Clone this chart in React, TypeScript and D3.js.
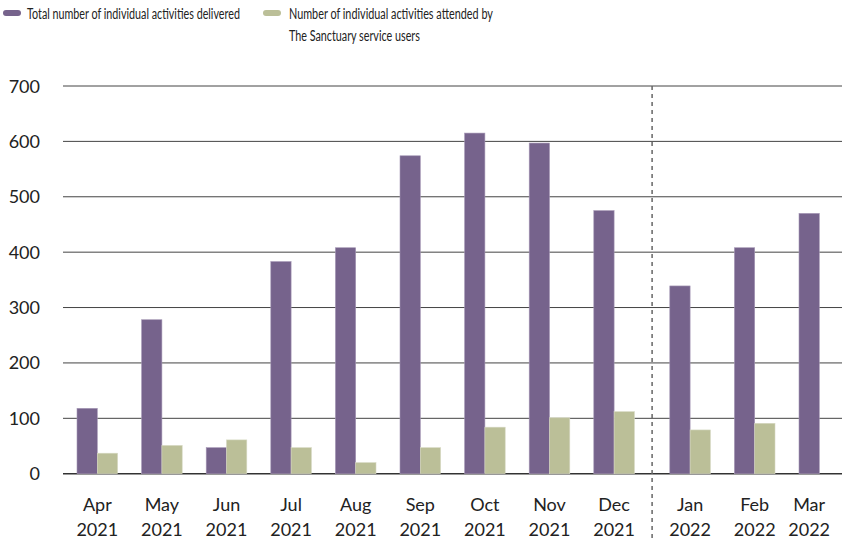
import * as d3 from "d3";
import { useLayoutEffect, useRef, useState } from "react";

const months = ["Apr", "May", "Jun", "Jul", "Aug", "Sep", "Oct", "Nov", "Dec", "Jan", "Feb", "Mar"];
const years = ["2021", "2021", "2021", "2021", "2021", "2021", "2021", "2021", "2021", "2022", "2022", "2022"];
const delivered = [118, 278, 47, 383, 408, 574, 615, 597, 475, 339, 408, 470];
const attended = [37, 51, 61, 47, 20, 47, 84, 101, 112, 79, 91, 0];
const yTicks = [0, 100, 200, 300, 400, 500, 600, 700];

const width = 844;
const height = 540;
const plotLeft = 63;
const plotRight = 842;
const yearGap = 11.4;
const barW = 20.3;
const purple = "#76638c";
const green = "#bbbf98";
const font = "Lato, 'Open Sans', sans-serif";
const textColor = "#222222";

// legend text in the reference is drawn narrow, so squeeze it to the measured width
function FitText({ x, y, w, children }: { x: number; y: number; w: number; children: string }) {
  const ref = useRef<SVGTextElement>(null);
  const [sx, setSx] = useState(1);
  useLayoutEffect(() => {
    if (!ref.current) return;
    const len = ref.current.getComputedTextLength();
    if (len > 0) setSx(w / len);
  }, [w, children]);
  return (
    <text
      ref={ref}
      transform={`translate(${x}, ${y}) scale(${sx}, 1)`}
      fontSize={16}
      fill={textColor}
    >
      {children}
    </text>
  );
}

export default function App() {
  const y = d3.scaleLinear().domain([0, 700]).range([473.7, 86]);
  const x = d3.scalePoint<string>().domain(months).range([77, 787.6]);
  const groupX = (m: string, i: number) => (x(m) as number) + (years[i] === "2022" ? yearGap : 0);
  const splitX = (groupX("Dec", 8) + 2 * barW + groupX("Jan", 9)) / 2;

  return (
    <svg
      width={width}
      height={height}
      style={{ position: "absolute", left: 0, top: 0, background: "#fff" }}
      fontFamily={font}
    >
      {/* legend */}
      <rect x={3} y={10} width={18} height={6} rx={3} fill={purple} />
      <FitText x={27} y={18.5} w={213}>Total number of individual activities delivered</FitText>
      <rect x={263} y={10} width={18} height={6} rx={3} fill={green} />
      <FitText x={289} y={18.5} w={204}>Number of individual activities attended by</FitText>
      <FitText x={289} y={41} w={131}>The Sanctuary service users</FitText>

      {/* grid */}
      {yTicks.map((t) => (
        <g key={t}>
          <line
            x1={plotLeft}
            x2={plotRight}
            y1={y(t)}
            y2={y(t)}
            stroke={t === 0 ? "#333" : "#444"}
            strokeWidth={t === 0 ? 1.6 : 1}
          />
          <text x={40} y={y(t) + 6.5} textAnchor="end" fontSize={18} fill={textColor}>
            {t}
          </text>
        </g>
      ))}

      {/* bars */}
      {months.map((m, i) => {
        const gx = groupX(m, i);
        return (
          <g key={m}>
            <rect
              x={gx}
              y={y(delivered[i])}
              width={barW}
              height={y(0) - y(delivered[i])}
              fill={purple}
              stroke="#a597b5"
              strokeWidth={0.6}
            />
            {attended[i] > 0 && (
              <rect
                x={gx + barW}
                y={y(attended[i])}
                width={barW}
                height={y(0) - y(attended[i])}
                fill={green}
                stroke="#d6d8c2"
                strokeWidth={0.6}
              />
            )}
          </g>
        );
      })}

      {/* x labels */}
      {months.map((m, i) => {
        const gx = groupX(m, i);
        const cx = attended[i] > 0 ? gx + barW : gx + barW / 2;
        return (
          <text key={m} x={cx} textAnchor="middle" fontSize={18} fill={textColor}>
            <tspan x={cx} y={511}>{m}</tspan>
            <tspan x={cx} y={536}>{years[i]}</tspan>
          </text>
        );
      })}

      {/* year divider */}
      <line x1={splitX} x2={splitX} y1={86} y2={540} stroke="#666" strokeWidth={1.5} strokeDasharray="4 4" />
    </svg>
  );
}
